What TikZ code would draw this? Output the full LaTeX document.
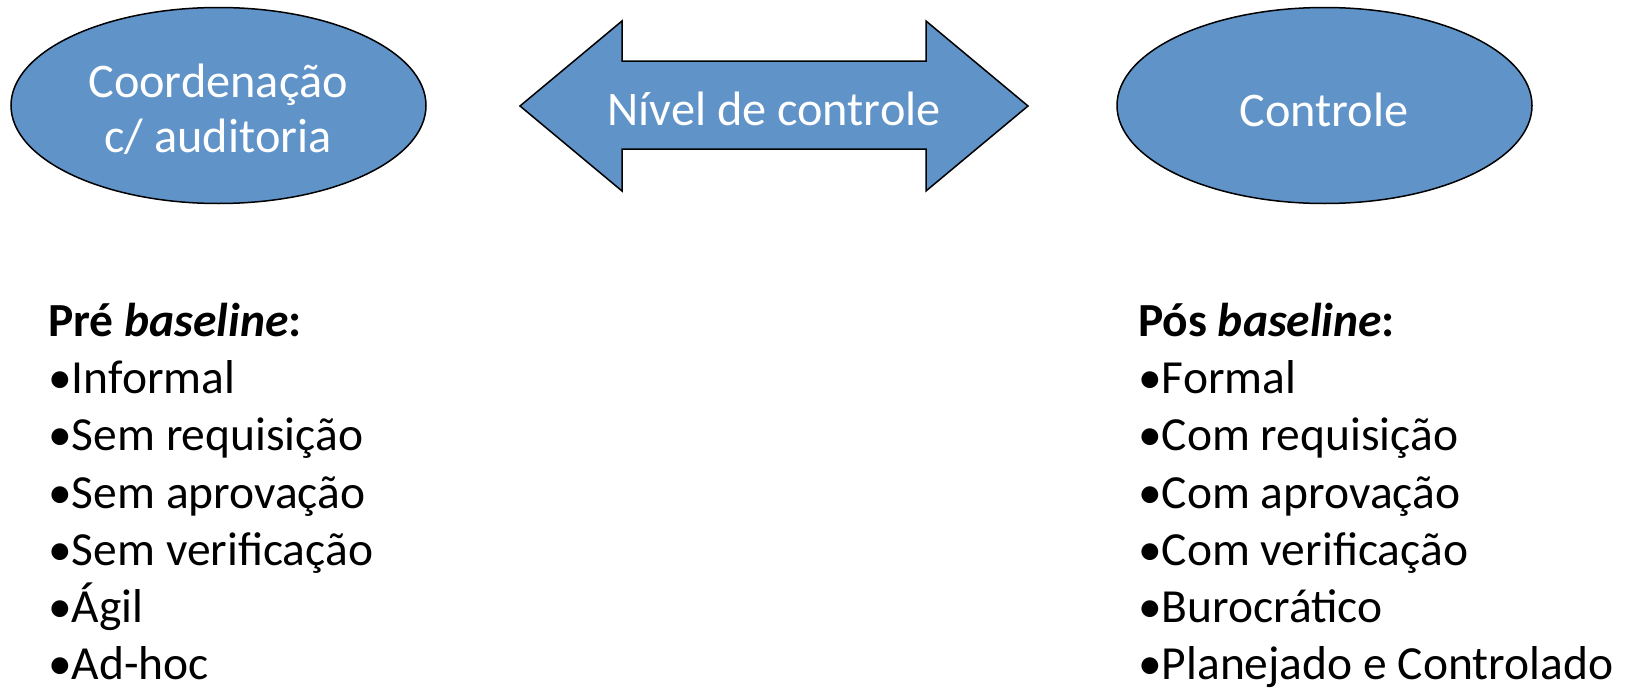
\documentclass[tikz,border=0pt]{standalone}
\usepackage{fontspec}
\setmainfont{Carlito}
\usetikzlibrary{shapes.geometric}
\definecolor{shapeblue}{RGB}{96,148,200}
\tikzset{
  blob/.style={ellipse, draw=black, line width=1.5pt, fill=shapeblue, inner sep=0pt,
    minimum width=415pt, minimum height=196pt},
  shapetext/.style={text=white, inner sep=0pt, anchor=base, font=\fontsize{48.3}{56}\selectfont},
  listline/.style={text=black, inner sep=0pt, anchor=base west, font=\fontsize{47.5}{57}\selectfont},
  blockarrow/.style={draw=black, line width=1.5pt, fill=shapeblue, line join=miter}
}
\begin{document}
\begin{tikzpicture}[x=1pt,y=-1pt]
\useasboundingbox (0,0) rectangle (1631,688);
% ellipses
\node[blob] (coord) at (218.5,105.5) {};
\node[blob] (ctrl) at (1324.5,105.5) {};
\node[shapetext] (coordA) at (218,97) {Coordenação};
\node[shapetext] (coordB) at (218,152) {c/ auditoria};
\node[shapetext] (ctrlT) at (1324,126) {Controle};
% double block arrow
\draw[blockarrow] (520,106) -- (622,21) -- (622,61) -- (926,61) -- (926,21) -- (1028,106)
  -- (926,191) -- (926,149) -- (622,149) -- (622,191) -- cycle;
\node[shapetext] (nivel) at (774,125) {Nível de controle};
% left list
\node[listline] (pre) at (48,336.7) {\textbf{Pré \textit{baseline}:}};
\node[listline] (l1) at (48,393.8) {•Informal};
\node[listline] (l2) at (48,450.9) {•Sem requisição};
\node[listline] (l3) at (48,508.0) {•Sem aprovação};
\node[listline] (l4) at (48,565.1) {•Sem verificação};
\node[listline] (l5) at (48,622.2) {•Ágil};
\node[listline] (l6) at (48,679.3) {•Ad-hoc};
% right list
\node[listline] (pos) at (1138,336.7) {\textbf{Pós \textit{baseline}:}};
\node[listline] (r1) at (1138,393.8) {•Formal};
\node[listline] (r2) at (1138,450.9) {•Com requisição};
\node[listline] (r3) at (1138,508.0) {•Com aprovação};
\node[listline] (r4) at (1138,565.1) {•Com verificação};
\node[listline] (r5) at (1138,622.2) {•Burocrático};
\node[listline] (r6) at (1138,679.3) {•Planejado e Controlado};
\end{tikzpicture}
\end{document}
